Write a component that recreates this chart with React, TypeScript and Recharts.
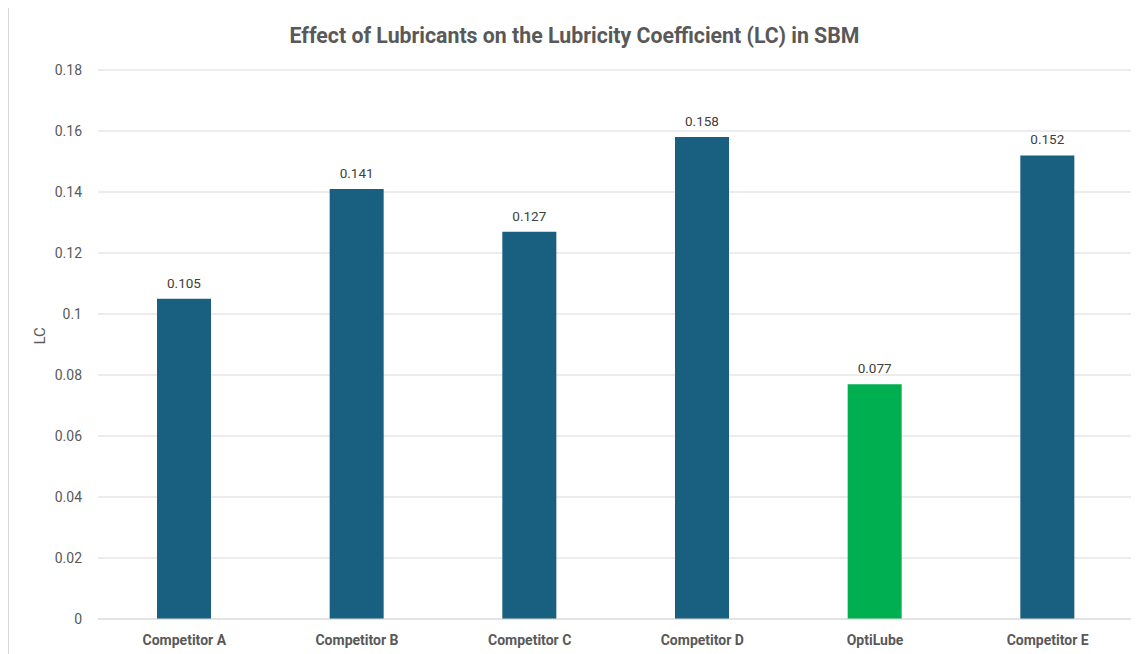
import React from "react";
import { BarChart, Bar, XAxis, YAxis, CartesianGrid, Cell, LabelList } from "recharts";

// values
const products = ["Competitor A", "Competitor B", "Competitor C", "Competitor D", "OptiLube", "Competitor E"];
const lcValues = [0.105, 0.141, 0.127, 0.158, 0.077, 0.152];
const barColors = ["#185F80", "#185F80", "#185F80", "#185F80", "#00B050", "#185F80"];
const yTicks = [0, 0.02, 0.04, 0.06, 0.08, 0.1, 0.12, 0.14, 0.16, 0.18];

const data = products.map((name, i) => ({ name, lc: lcValues[i] }));

const font = "Roboto, 'Open Sans', sans-serif";

export default function App() {
  return (
    <div
      style={{
        position: "relative",
        width: 1131,
        height: 646,
        marginTop: -1,
        border: "1px solid #d9d9d9",
        borderRight: "none",
        borderBottom: "none",
        background: "#fff",
        fontFamily: font,
      }}
    >
      <div
        style={{
          position: "absolute",
          top: 15,
          left: 0,
          width: "100%",
          textAlign: "center",
          fontSize: 21.3,
          fontWeight: 700,
          color: "#595959",
        }}
      >
        Effect of Lubricants on the Lubricity Coefficient (LC) in SBM
      </div>
      <BarChart
        width={1131}
        height={646}
        data={data}
        margin={{ top: 62, right: 6, bottom: 5, left: 29 }}
        barCategoryGap={0}
      >
        <CartesianGrid vertical={false} stroke="#d9d9d9" />
        <XAxis
          dataKey="name"
          axisLine={{ stroke: "#d9d9d9" }}
          tickLine={false}
          height={30}
          tick={{ fill: "#595959", fontSize: 14, fontWeight: 700, fontFamily: font }}
          tickMargin={10}
        />
        <YAxis
          width={60}
          domain={[0, 0.18]}
          ticks={yTicks}
          axisLine={false}
          tickLine={false}
          tickMargin={10}
          tick={{ fill: "#595959", fontSize: 14, fontFamily: font }}
          label={{
            value: "LC",
            angle: -90,
            position: "insideLeft",
            offset: 0,
            dx: 2,
            style: { fill: "#595959", fontSize: 15, fontFamily: font },
          }}
        />
        <Bar dataKey="lc" barSize={54} isAnimationActive={false}>
          {data.map((d, i) => (
            <Cell key={d.name} fill={barColors[i]} />
          ))}
          <LabelList
            dataKey="lc"
            position="top"
            offset={11}
            style={{ fill: "#404040", fontSize: 13.5, fontFamily: font }}
          />
        </Bar>
      </BarChart>
    </div>
  );
}
